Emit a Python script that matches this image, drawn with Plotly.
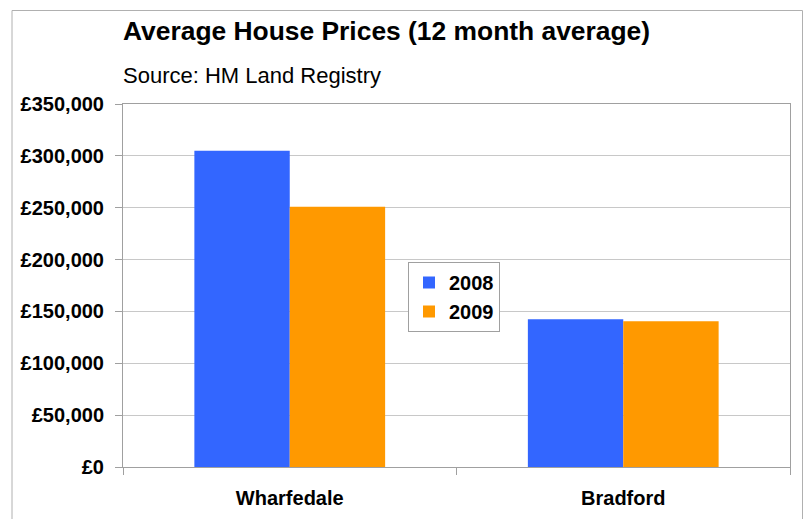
import plotly.graph_objects as go

categories = ["Wharfedale", "Bradford"]
series_names = ["2008", "2009"]
values_2008 = [305000, 142500]
values_2009 = [251000, 140500]
colors = ["#3366FF", "#FF9900"]
y_ticks = [0, 50000, 100000, 150000, 200000, 250000, 300000, 350000]
y_labels = ["£0", "£50,000", "£100,000", "£150,000", "£200,000", "£250,000", "£300,000", "£350,000"]

font_fam = "Liberation Sans, Arial, sans-serif"

fig = go.Figure()
for name, vals, col in zip(series_names, [values_2008, values_2009], colors):
    fig.add_trace(go.Bar(
        x=categories, y=vals, name=name,
        marker=dict(color=col, line=dict(color=col, width=0)),
    ))

L, R, T, B = 123, 15, 104, 52
W, H = 805, 519
pw = W - L - R
ph = H - T - B

def px_x(x):
    return (x - L) / pw

def px_y(y):
    return (H - B - y) / ph

fig.update_layout(
    width=W, height=H,
    margin=dict(l=L, r=R, t=T, b=B, autoexpand=False),
    paper_bgcolor="white", plot_bgcolor="white",
    barmode="group", bargap=0.428, bargroupgap=0,
    font=dict(family=font_fam, color="black"),
    showlegend=True,
    legend=dict(
        x=px_x(408), y=px_y(262), xanchor="left", yanchor="top",
        bordercolor="#A0A0A0", borderwidth=1, bgcolor="white",
        font=dict(size=20, family=font_fam, color="black", weight="bold"),
        itemwidth=30, tracegroupgap=0,
    ),
    xaxis=dict(
        type="category", showgrid=False, showline=True, linecolor="#A0A0A0", linewidth=1,
        mirror=True, ticks="outside", tickson="boundaries", ticklen=7, tickcolor="#A0A0A0",
        tickfont=dict(size=20, family=font_fam, color="black", weight="bold"),
        ticklabelstandoff=13,
    ),
    yaxis=dict(
        range=[0, 350000], tickvals=y_ticks, ticktext=y_labels,
        showgrid=True, gridcolor="#C8C8C8", gridwidth=1,
        showline=True, linecolor="#A0A0A0", linewidth=1, mirror=True,
        ticks="outside", ticklen=7, tickcolor="#A0A0A0",
        tickfont=dict(size=20, family=font_fam, color="black", weight="bold"),
        ticklabelstandoff=7, zeroline=False,
    ),
    annotations=[
        dict(text="<b>Average House Prices (12 month average)</b>", xref="paper", yref="paper",
             x=px_x(386), y=px_y(31), xanchor="center", yanchor="middle", showarrow=False,
             font=dict(size=26.4, family=font_fam, color="black")),
        dict(text="Source: HM Land Registry", xref="paper", yref="paper",
             x=px_x(121), y=px_y(75.5), xanchor="left", yanchor="middle", showarrow=False,
             font=dict(size=22, family=font_fam, color="black")),
    ],
    shapes=[
        dict(type="rect", xref="paper", yref="paper",
             x0=px_x(12), x1=px_x(802.5), y0=px_y(525), y1=px_y(10.5),
             line=dict(color="#B0B0B0", width=1), fillcolor="rgba(0,0,0,0)", layer="below"),
    ],
)

fig.write_html("out.html", config={"displayModeBar": False},
               post_script="document.body.style.margin='0';document.body.style.overflow='hidden';")
